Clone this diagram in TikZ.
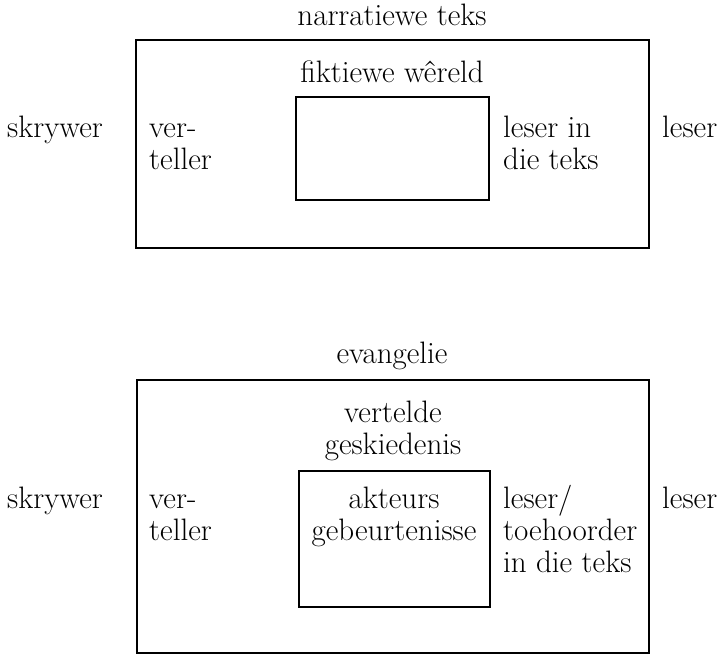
\documentclass[tikz,border=0pt]{standalone}
\usepackage{tikz}
\begin{document}
\begin{tikzpicture}[x=1pt,y=-1pt,
    lbl/.style={font=\fontsize{31}{32}\selectfont,inner sep=0pt},
    frame/.style={line width=1.1pt}]
  \useasboundingbox (0,0) rectangle (721,656);

  % --- Top: narrative text ---
  \node[lbl,anchor=base] (narr) at (392,25) {narratiewe teks};
  \draw[frame] (136,40) rectangle (649,248);
  \node[lbl,anchor=base] (fikt) at (392,82) {fiktiewe w\^ereld};
  \draw[frame] (296,97) rectangle (489,200);
  % multi-line nodes sit on their last baseline
  \node[lbl,anchor=base west] (skr1) at (7,137) {skrywer};
  \node[lbl,anchor=base west,align=left] (vert1) at (149,169) {ver-\\teller};
  \node[lbl,anchor=base west,align=left] (lit1) at (503,169) {leser in\\die teks};
  \node[lbl,anchor=base west] (les1) at (662,137) {leser};

  % --- Bottom: gospel ---
  \node[lbl,anchor=base] (evan) at (392,363) {evangelie};
  \draw[frame] (137,380) rectangle (649,653);
  \node[lbl,anchor=base,align=center] (gesk) at (393,454) {vertelde\\geskiedenis};
  \draw[frame] (299,471) rectangle (490,607);
  \node[lbl,anchor=base,align=center] (akt) at (394,540) {akteurs\\gebeurtenisse};
  \node[lbl,anchor=base west] (skr2) at (7,508) {skrywer};
  \node[lbl,anchor=base west,align=left] (vert2) at (149,540) {ver-\\teller};
  \node[lbl,anchor=base west,align=left] (lit2) at (503,572) {leser/\\toehoorder\\in die teks};
  \node[lbl,anchor=base west] (les2) at (662,508) {leser};
\end{tikzpicture}
\end{document}
